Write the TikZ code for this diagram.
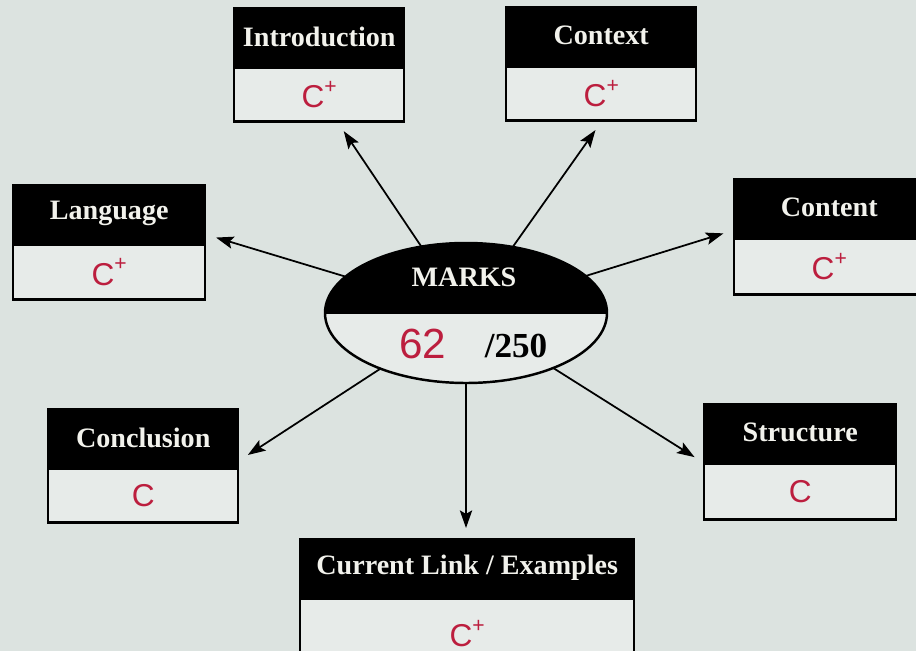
\documentclass[tikz,border=0pt]{standalone}
\usepackage{fontspec}
\setmainfont{Liberation Serif}
\newfontfamily\handfont{Liberation Sans}
\usetikzlibrary{arrows.meta,positioning,shapes.geometric}
\definecolor{paper}{RGB}{220,227,224}
\definecolor{boxfill}{RGB}{231,235,233}
\definecolor{headtext}{RGB}{242,242,236}
\definecolor{handred}{RGB}{188,30,62}
\newcommand\plusup{\raisebox{0.45em}{\fontsize{12}{12}\selectfont +}}
\newcommand\linktitle{Current Link / Examples}

\begin{document}
\begin{tikzpicture}[x=0.02cm,y=-0.02cm,
  head/.style={draw=black,fill=black,line width=1.4pt,inner sep=0pt,minimum height=1.14cm,
    text=headtext,font=\bfseries\fontsize{16}{18}\selectfont},
  gradebox/.style={draw=black,fill=boxfill,line width=1.4pt,inner sep=0pt,
    text=handred,font=\handfont\fontsize{18}{20}\selectfont},
  conn/.style={-{Stealth[length=10pt,width=7pt,inset=2pt]},line width=1pt,shorten >=0.2cm}]
  \fill[paper] (0,0) rectangle (916,651);
  \clip (0,0) rectangle (916,651);
  % boxes round the marks
  \foreach \id/\x/\y/\w/\h/\title/\grade in {intro/233/7/170/54/Introduction/{C\plusup},
      context/505/6/190/54/Context/{C\plusup},
      lang/12/184/192/55/Language/{C\plusup},
      content/733/178/190/56/Content/{C\plusup},
      concl/47/408/190/54/Conclusion/C,
      struct/703/403/192/56/Structure/C,
      link/299/538/334/70/\linktitle/{C\plusup}}{
    \node[head,anchor=north west,minimum width=\w*0.02cm] (\id) at (\x,\y) {\title};
    \node[gradebox,minimum width=\w*0.02cm,minimum height=\h*0.02cm,below=0pt of \id] (\id-g) {\grade};
  }
  % marks ellipse
  \node[ellipse,inner sep=0pt,minimum width=5.64cm,minimum height=2.8cm] (marks) at (466,313) {};
  \fill[boxfill] (marks.center) ellipse [x radius=141,y radius=70];
  \fill[black] (marks.west) arc[start angle=180,end angle=360,x radius=141,y radius=70] -- cycle;
  \draw[line width=1.4pt] (marks.center) ellipse [x radius=141,y radius=70];
  \draw[line width=1.4pt] (marks.west) -- (marks.east);
  \node[text=headtext,font=\bfseries\fontsize{16}{18}\selectfont] (markstitle) at (464,277) {MARKS};
  \node[text=handred,font=\handfont\fontsize{24}{26}\selectfont] (score) at (423,344) {62};
  \node[font=\bfseries\fontsize{20}{22}\selectfont] (total) at (516,346) {/250};
  % connectors
  \draw[conn] (marks) -- (intro-g);
  \draw[conn] (marks) -- (context-g.south);
  \draw[conn] (marks) -- ([yshift=5pt]lang.south east);
  \draw[conn] (marks) -- ([yshift=4pt]content.south west);
  \draw[conn] (marks) -- ([yshift=4pt]concl.south east);
  \draw[conn] (marks) -- (struct.south west);
  \draw[conn] (marks.south) -- (marks.south |- link.north);
\end{tikzpicture}
\end{document}
